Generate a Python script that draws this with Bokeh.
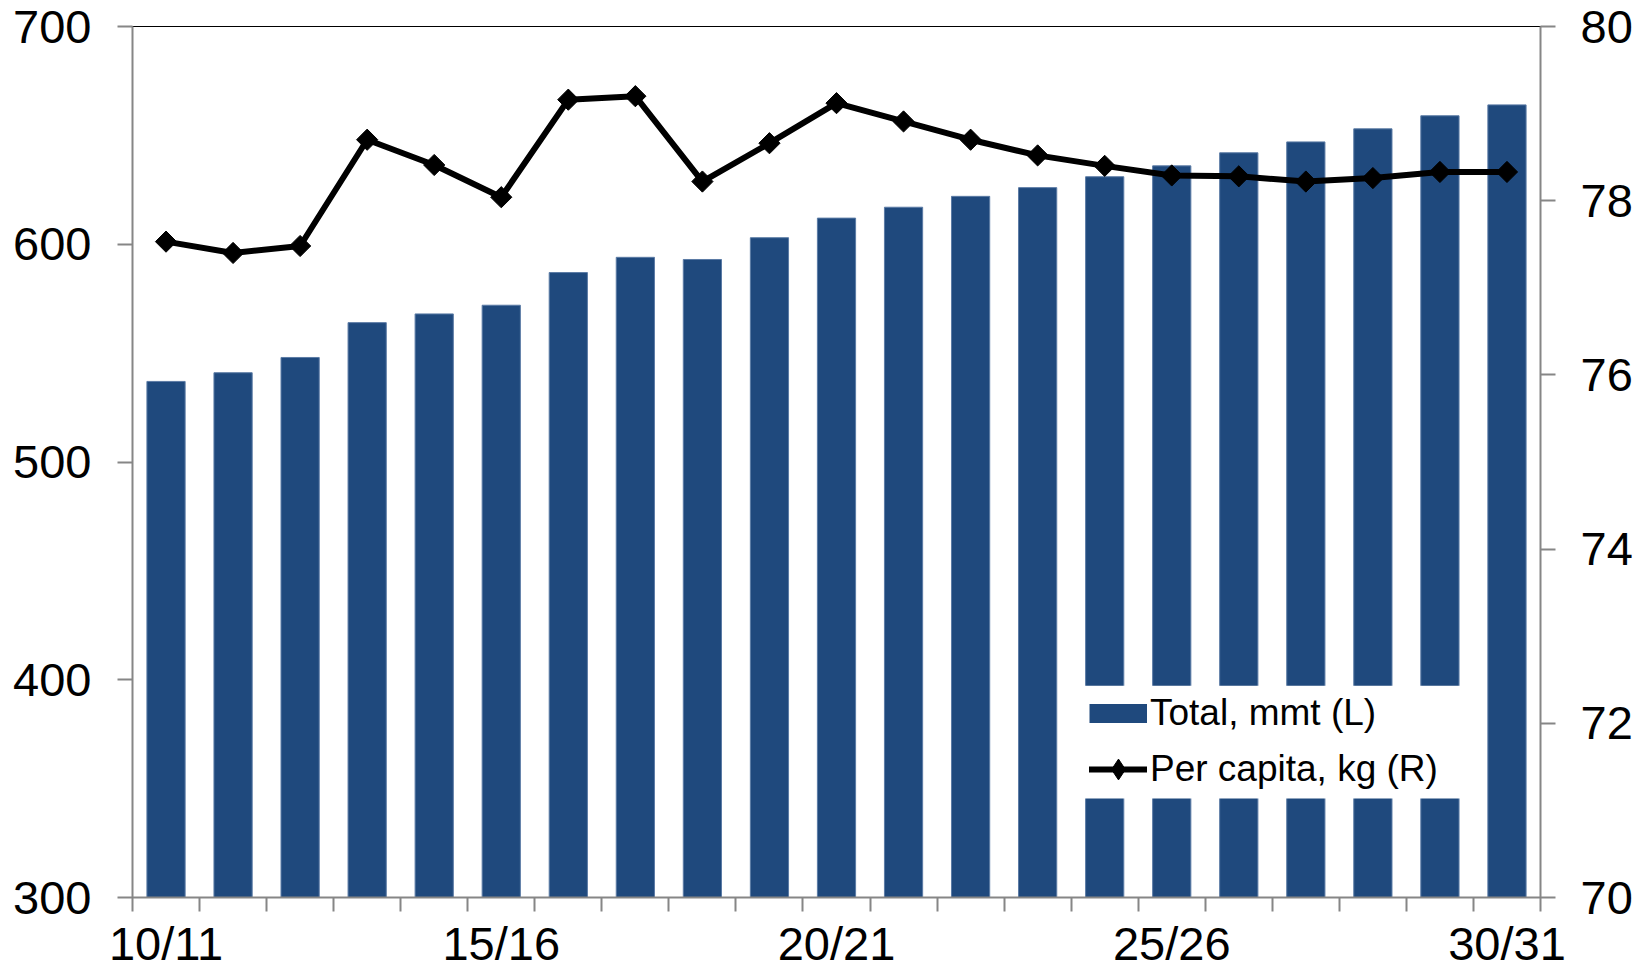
import math
from bokeh.plotting import figure
from bokeh.models import Range1d, LinearAxis, FixedTicker, Legend, LegendItem, BoxAnnotation
from bokeh.embed import file_html
from bokeh.resources import INLINE

years = ["10/11", "11/12", "12/13", "13/14", "14/15", "15/16", "16/17", "17/18",
         "18/19", "19/20", "20/21", "21/22", "22/23", "23/24", "24/25", "25/26",
         "26/27", "27/28", "28/29", "29/30", "30/31"]
total_mmt = [537, 541, 548, 564, 568, 572, 587, 594, 593, 603, 612, 617, 622, 626,
             631, 636, 642, 647, 653, 659, 664]
per_capita_kg = [77.53, 77.40, 77.48, 78.70, 78.41, 78.04, 79.16, 79.20, 78.22, 78.66,
                 79.12, 78.91, 78.70, 78.52, 78.40, 78.29, 78.28, 78.22, 78.26, 78.33, 78.33]
left_ticks = [300, 400, 500, 600, 700]
right_ticks = [70, 72, 74, 76, 78, 80]
labelled = ["10/11", "15/16", "20/21", "25/26", "30/31"]

x = list(range(len(years)))
FONT = "Liberation Sans"
GREY = "#868686"
BAR = "#1F497D"

p = figure(width=1636, height=973, output_backend="svg", toolbar_location=None,
           x_range=Range1d(-0.5, len(years) - 0.5), y_range=Range1d(300, 700),
           min_border_left=132, min_border_right=96, min_border_top=26,
           min_border_bottom=76, title=None)
p.outline_line_color = "black"
p.outline_line_width = 1
p.xgrid.visible = False
p.ygrid.visible = False
p.background_fill_color = "white"

# x axis
xax = p.xaxis[0]
xax.ticker = FixedTicker(ticks=[years.index(l) for l in labelled],
                         minor_ticks=[i - 0.5 for i in range(len(years) + 1)])
xax.major_label_overrides = {years.index(l): l for l in labelled}
xax.major_tick_out = 0
xax.major_tick_in = 0
xax.minor_tick_out = 14
xax.minor_tick_in = 0
xax.minor_tick_line_color = GREY
xax.minor_tick_line_width = 2
xax.axis_line_color = GREY
xax.axis_line_width = 2
xax.major_label_standoff = 5
xax.major_label_text_font = FONT
xax.major_label_text_font_size = "47px"
xax.major_label_text_color = "black"

# left axis
yax = p.yaxis[0]
yax.ticker = FixedTicker(ticks=left_ticks)
yax.major_tick_out = 15
yax.major_tick_in = 0
yax.minor_tick_out = 0
yax.minor_tick_in = 0
yax.major_tick_line_color = GREY
yax.major_tick_line_width = 2
yax.axis_line_color = GREY
yax.axis_line_width = 2
yax.major_label_standoff = 26
yax.major_label_text_font = FONT
yax.major_label_text_font_size = "47px"
yax.major_label_text_color = "black"

# right axis
p.extra_y_ranges = {"r": Range1d(70, 80)}
rax = LinearAxis(y_range_name="r", ticker=FixedTicker(ticks=right_ticks))
rax.major_tick_out = 15
rax.major_tick_in = 0
rax.minor_tick_out = 0
rax.minor_tick_in = 0
rax.major_tick_line_color = GREY
rax.major_tick_line_width = 2
rax.axis_line_color = GREY
rax.axis_line_width = 2
rax.major_label_standoff = 25
rax.major_label_text_font = FONT
rax.major_label_text_font_size = "47px"
rax.major_label_text_color = "black"
p.add_layout(rax, "right")

bars = p.vbar(x=x, top=total_mmt, bottom=300, width=0.57, fill_color=BAR,
              line_color="#5B7BA5", line_width=1)
line = p.line(x=x, y=per_capita_kg, y_range_name="r", line_color="black", line_width=6,
              line_join="round", line_cap="round")
marks = p.scatter(x=x, y=per_capita_kg, y_range_name="r", marker="square", size=15,
                  angle=math.pi / 4, fill_color="black", line_color="black")

# legend keys (hidden renderers, drawn only inside the legend)
bar_key = p.line(x=x, y=total_mmt, line_color=BAR, line_width=19, line_cap="butt",
                 visible=False)
mark_key = p.scatter(x=x, y=per_capita_kg, y_range_name="r", marker="diamond",
                     fill_color="black", line_color="black", visible=False)

# white panel behind the legend (Excel-style legend box covering the bars)
legend_bg = BoxAnnotation(left=13.5, right=19.5, bottom=345.5, top=397.3,
                          fill_color="white", fill_alpha=1, line_color=None)
p.add_layout(legend_bg)

legend = Legend(items=[LegendItem(label="Total, mmt (L)", renderers=[bar_key]),
                       LegendItem(label="Per capita, kg (R)", renderers=[line, mark_key])],
                location=(957, 102), background_fill_alpha=0,
                border_line_color=None, label_text_font=FONT, label_text_font_size="37px",
                label_text_color="black", glyph_width=58, glyph_height=52,
                label_standoff=3, padding=0, spacing=4, margin=0)
p.add_layout(legend, "center")

open("out.html", "w").write(file_html(p, INLINE))
